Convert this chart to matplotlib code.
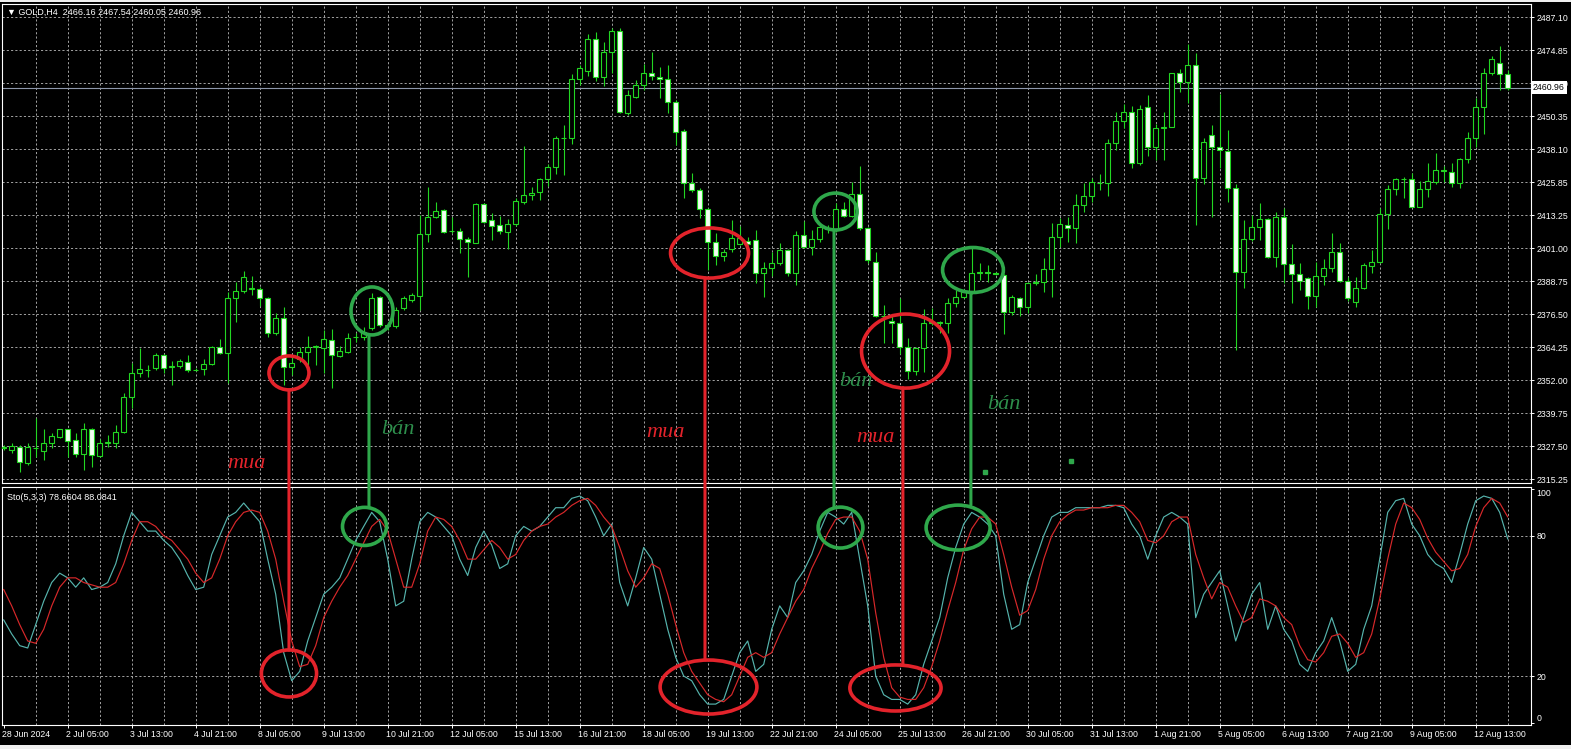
import matplotlib
matplotlib.use("Agg")
import matplotlib.pyplot as plt
from matplotlib.patches import Ellipse, Rectangle, ConnectionPatch
import matplotlib.transforms as mtransforms

# ---------------- data ----------------
opens = [2327.5,2326.5,2327.7,2321.5,2327.3,2326.2,2329.2,2331.2,2334.2,2330.2,
         2324.9,2334.2,2324.3,2329.2,2329.0,2333.3,2346.0,2354.9,2356.0,2356.8,
         2361.6,2357.2,2357.7,2359.3,2356.2,2356.4,2358.4,2364.6,2362.4,2382.8,
         2385.5,2386.4,2386.1,2382.8,2369.8,2375.4,2357.4,2360.1,2363.0,2364.8,
         2364.2,2367.3,2361.4,2363.0,2368.3,2368.3,2371.6,2383.2,2372.9,2372.6,
         2379.1,2382.2,2383.8,2406.7,2413.1,2415.5,2407.6,2407.9,2404.7,2403.4,
         2417.8,2411.9,2409.9,2407.5,2410.3,2418.7,2421.0,2422.1,2427.0,2431.4,
         2442.2,2442.3,2464.1,2467.3,2478.9,2464.8,2474.3,2482.1,2451.7,2457.6,
         2462.0,2466.6,2465.1,2464.3,2455.8,2445.0,2425.7,2423.0,2415.8,2403.6,
         2398.6,2401.0,2403.0,2404.1,2404.4,2392.3,2393.9,2396.0,2400.7,2392.3,
         2406.3,2401.7,2404.7,2408.8,2408.2,2415.8,2413.3,2421.5,2408.8,2396.4,
         2376.2,2374.5,2373.5,2364.6,2355.9,2364.2,2373.5,2374.1,2373.5,2381.2,
         2383.2,2385.3,2392.3,2392.5,2392.3,2391.4,2377.8,2382.8,2379.4,2388.6,
         2388.8,2393.6,2405.4,2410.0,2408.8,2417.4,2420.8,2425.6,2425.5,2440.5,
         2448.5,2452.0,2432.9,2453.9,2438.8,2445.9,2446.5,2466.3,2463.2,2469.4,
         2427.3,2443.4,2438.8,2437.6,2423.6,2392.7,2404.7,2409.4,2412.1,2398.3,
         2413.1,2395.4,2391.7,2390.2,2383.8,2391.2,2393.9,2400.1,2389.4,2381.6,
         2386.5,2394.9,2396.2,2414.0,2423.3,2426.9,2427.0,2416.8,2423.3,2426.1,
         2430.3,2429.6,2425.5,2434.4,2442.2,2453.7,2466.6,2470.0,2466.16]
highs = [2328.5,2329.2,2328.3,2329.2,2338.2,2334.2,2332.9,2334.4,2334.4,2332.7,
         2336.6,2334.8,2330.4,2332.0,2335.8,2347.5,2358.7,2364.5,2358.0,2362.4,
         2362.1,2359.6,2360.1,2361.8,2356.8,2360.1,2365.1,2367.6,2385.3,2389.0,
         2392.9,2391.1,2386.9,2383.4,2377.2,2379.4,2361.1,2364.8,2368.8,2365.5,
         2371.0,2371.3,2365.1,2369.8,2369.8,2372.3,2384.6,2383.7,2374.0,2379.5,
         2383.5,2384.6,2413.7,2424.0,2418.4,2415.8,2413.1,2408.8,2405.4,2418.3,
         2418.3,2414.6,2413.3,2412.1,2419.9,2439.3,2424.2,2427.3,2432.6,2443.0,
         2447.1,2466.1,2469.4,2480.9,2481.8,2478.1,2483.0,2483.0,2460.1,2463.8,
         2469.8,2474.3,2468.5,2469.4,2456.4,2445.5,2429.2,2423.6,2416.2,2407.2,
         2401.0,2411.9,2409.6,2405.7,2408.2,2396.4,2400.1,2403.4,2401.0,2407.9,
         2411.6,2408.2,2410.0,2410.0,2418.3,2418.7,2426.1,2431.9,2409.1,2400.1,
         2380.3,2376.6,2382.8,2367.9,2364.8,2378.7,2379.1,2374.5,2382.8,2385.9,
         2386.1,2402.0,2396.0,2395.2,2392.7,2391.8,2384.0,2383.4,2389.0,2391.8,
         2397.6,2410.6,2412.5,2413.1,2421.5,2425.5,2427.3,2428.9,2442.0,2452.0,
         2455.0,2454.0,2454.5,2458.3,2447.5,2452.1,2466.6,2467.8,2477.2,2473.7,
         2442.2,2447.1,2458.6,2445.3,2425.2,2411.9,2413.7,2418.3,2412.5,2415.0,
         2416.2,2403.0,2395.8,2390.8,2396.4,2397.3,2406.9,2403.2,2390.8,2390.8,
         2396.0,2400.7,2416.2,2424.9,2427.3,2428.0,2429.4,2426.5,2432.9,2436.6,
         2431.9,2432.9,2434.8,2444.7,2457.0,2468.2,2472.7,2476.5,2467.54]
lows = [2326.5,2325.3,2318.4,2320.9,2324.0,2322.8,2327.1,2330.8,2324.0,2324.0,
        2319.1,2320.3,2324.0,2327.7,2327.1,2332.7,2342.0,2353.7,2353.7,2356.2,
        2355.2,2350.6,2356.8,2355.6,2355.9,2354.3,2358.0,2362.1,2351.2,2374.1,
        2384.9,2384.0,2379.9,2368.3,2369.2,2350.6,2354.3,2359.3,2358.0,2358.0,
        2355.2,2349.4,2360.9,2362.6,2366.7,2367.3,2371.0,2372.3,2371.0,2371.8,
        2378.5,2381.6,2378.5,2403.8,2412.5,2406.9,2407.2,2399.7,2390.8,2403.2,
        2410.6,2404.4,2406.7,2401.0,2409.6,2417.8,2419.3,2419.3,2424.5,2428.9,
        2428.6,2440.1,2462.0,2465.3,2463.6,2461.6,2466.3,2451.4,2450.8,2457.0,
        2460.1,2463.8,2457.0,2451.4,2439.7,2419.9,2422.4,2412.5,2393.3,2395.2,
        2396.8,2400.1,2402.6,2402.6,2388.6,2383.4,2391.1,2395.2,2391.1,2387.7,
        2401.3,2398.9,2403.8,2406.9,2407.5,2413.1,2413.1,2408.1,2395.8,2376.0,
        2366.3,2366.1,2362.1,2352.7,2354.3,2355.6,2372.9,2369.8,2370.0,2379.7,
        2382.8,2384.5,2389.6,2389.0,2391.4,2369.5,2376.6,2376.2,2377.5,2387.7,
        2385.3,2383.2,2402.0,2403.8,2403.4,2415.0,2418.7,2423.0,2420.8,2438.0,
        2446.0,2431.0,2432.3,2435.6,2434.1,2434.1,2446.3,2459.5,2455.2,2410.0,
        2425.2,2413.1,2431.0,2418.7,2363.6,2386.5,2404.2,2404.4,2397.6,2394.5,
        2388.6,2381.2,2385.9,2378.7,2379.7,2387.7,2392.7,2389.0,2381.9,2379.7,
        2386.1,2392.3,2395.8,2408.4,2421.1,2419.9,2416.6,2416.6,2420.5,2425.2,
        2426.1,2424.2,2423.6,2433.2,2439.1,2443.8,2465.7,2460.1,2460.05]
closes = [2327.1,2328.0,2322.2,2327.5,2327.1,2329.2,2331.7,2334.2,2330.0,2324.9,
          2334.2,2324.6,2329.2,2329.4,2333.3,2346.0,2354.9,2356.4,2356.2,2361.8,
          2356.8,2357.7,2359.6,2356.2,2356.1,2358.3,2364.6,2362.4,2382.8,2385.5,
          2390.8,2386.6,2382.8,2370.0,2375.4,2357.4,2358.9,2363.0,2364.8,2365.0,
          2367.6,2361.6,2363.4,2367.9,2368.5,2370.4,2382.8,2372.9,2372.6,2378.5,
          2382.8,2384.0,2406.7,2413.1,2415.2,2407.5,2407.8,2404.7,2403.6,2417.8,
          2411.0,2409.6,2407.8,2410.3,2418.9,2421.0,2421.9,2427.0,2431.4,2442.2,
          2442.3,2464.1,2468.2,2478.9,2464.8,2474.3,2482.1,2452.1,2458.1,2462.0,
          2466.3,2465.3,2464.3,2455.8,2444.6,2425.7,2423.0,2415.8,2403.6,2398.5,
          2399.9,2405.0,2405.0,2402.8,2392.3,2393.9,2396.0,2400.7,2392.3,2406.3,
          2401.7,2404.7,2409.1,2408.6,2415.8,2413.3,2421.5,2408.8,2397.0,2376.2,
          2376.4,2373.8,2364.6,2355.9,2364.2,2373.5,2373.9,2373.5,2381.2,2383.2,
          2385.3,2392.3,2392.6,2392.3,2391.8,2377.8,2383.2,2379.4,2388.6,2388.8,
          2393.6,2405.4,2410.4,2408.8,2417.4,2420.8,2426.1,2425.5,2440.5,2448.5,
          2452.0,2432.9,2452.9,2438.8,2445.9,2446.3,2466.3,2463.2,2469.4,2427.3,
          2440.9,2438.8,2437.9,2423.6,2392.7,2404.7,2409.4,2412.1,2398.3,2413.1,
          2395.4,2391.7,2389.4,2383.8,2391.2,2393.9,2400.1,2389.4,2382.8,2386.5,
          2395.2,2396.2,2414.0,2423.3,2427.0,2427.0,2416.8,2423.3,2426.3,2430.4,
          2430.2,2425.5,2434.4,2442.2,2453.7,2466.6,2471.5,2465.9,2460.96]

stoch_main = [44,38,33,32,42,52,60,64,62,58,62,57,58,60,68,80,90,86,82,82,
              78,75,70,63,57,58,72,80,88,90,94,90,86,70,55,30,18,22,35,45,
              55,58,62,70,78,84,90,86,70,50,52,70,86,90,88,84,80,70,63,75,
              82,76,66,68,80,84,82,84,88,92,92,96,97,95,88,80,85,60,50,62,
              75,70,55,40,28,20,18,12,8,8,10,20,30,35,22,25,40,50,45,60,
              65,72,82,90,88,85,90,70,50,20,12,10,10,8,12,25,35,45,62,75,
              85,90,88,85,80,55,40,42,60,70,80,88,90,90,92,92,92,92,93,93,
              92,85,80,70,80,88,90,88,85,45,55,60,65,50,35,45,55,60,40,50,
              40,35,25,22,30,35,45,35,22,25,40,50,70,90,95,96,85,80,72,68,
              66,60,72,85,95,97,96,90,78.6604]
stoch_signal = [57,50,42,35,34,40,50,58,62,62,60,59,58,58,60,68,78,86,86,84,
                80,78,74,70,64,60,62,70,80,86,90,91,90,82,70,52,35,24,25,33,
                45,52,58,63,70,77,84,87,82,70,58,58,68,82,88,87,84,78,70,70,
                74,78,75,70,72,78,82,84,85,88,90,93,95,96,93,88,84,75,65,58,
                62,68,66,55,42,30,22,17,12,10,9,12,20,28,30,28,30,38,45,52,
                57,66,73,81,87,88,88,82,70,47,28,15,11,10,10,15,24,35,48,60,
                74,83,88,88,85,72,58,46,48,57,70,80,86,89,91,91,92,92,92,93,
                93,90,86,78,77,80,86,88,88,72,62,53,60,58,50,43,45,53,52,50,
                45,42,33,27,26,30,37,38,34,28,30,38,53,70,85,94,92,87,79,73,
                69,65,66,72,84,92,96,94,88.0841]

date_labels = ["28 Jun 2024", "2 Jul 05:00", "3 Jul 13:00", "4 Jul 21:00", "8 Jul 05:00",
               "9 Jul 13:00", "10 Jul 21:00", "12 Jul 05:00", "15 Jul 13:00", "16 Jul 21:00",
               "18 Jul 05:00", "19 Jul 13:00", "22 Jul 21:00", "24 Jul 05:00", "25 Jul 13:00",
               "26 Jul 21:00", "30 Jul 05:00", "31 Jul 13:00", "1 Aug 21:00", "5 Aug 05:00",
               "6 Aug 13:00", "7 Aug 21:00", "9 Aug 05:00", "12 Aug 13:00"]
price_tick_labels = ["2487.10", "2474.85", "2462.60", "2450.35", "2438.10", "2425.85",
                     "2413.25", "2401.00", "2388.75", "2376.50", "2364.25", "2352.00",
                     "2339.75", "2327.50", "2315.25"]
price_tick_values = [2487.10 - 12.25 * k for k in range(len(price_tick_labels))]
stoch_tick_values = [100, 80, 20, 0]
stoch_levels = [20, 80]
last_price = 2460.96
header = "\u25bc GOLD,H4  2466.16 2467.54 2460.05 2460.96"
stoch_title = "Sto(5,3,3) 78.6604 88.0841"

# annotations: (candle index, value, width in candles, height in value units)
RED = '#e3232b'
GRN = '#2fa84b'
GRN_TXT = '#2e8f4c'
price_marks = [(35.66, 2355.1, 5.0, 12.6, RED), (46.04, 2378.1, 5.25, 17.8, GRN),
               (88.23, 2399.6, 9.75, 18.6, RED), (103.98, 2415.0, 5.4, 13.7, GRN),
               (112.73, 2363.2, 11.0, 27.5, RED), (121.16, 2393.3, 7.6, 16.7, GRN)]
stoch_marks = [(35.66, 21.1, 6.9, 20.1, RED), (45.1, 84.0, 5.5, 16.3, GRN),
               (88.1, 15.3, 12.1, 23.1, RED), (104.6, 83.5, 5.6, 17.5, GRN),
               (111.47, 14.9, 11.4, 19.7, RED), (119.3, 83.5, 8.0, 19.2, GRN)]
links = [(35.66, 2348.8, 31.1, RED), (45.66, 2369.2, 92.2, GRN),
         (87.66, 2390.4, 26.9, RED), (103.79, 2408.1, 92.3, GRN),
         (112.4, 2349.6, 24.7, RED), (120.9, 2384.9, 93.2, GRN)]
notes = [(30.3, 2321.6, "mua", RED), (49.3, 2334.0, "b\u00e1n", GRN_TXT),
         (82.7, 2333.1, "mua", RED), (106.5, 2351.8, "b\u00e1n", GRN_TXT),
         (108.9, 2331.2, "mua", RED), (124.97, 2343.2, "b\u00e1n", GRN_TXT)]
dots = [(122.66, 2318.3), (133.4, 2322.4)]

# ---------------- figure ----------------
W, H = 1571, 749
fig = plt.figure(figsize=(W / 100, H / 100), dpi=100)
fig.patch.set_facecolor('#f0f0f0')
bg = fig.add_axes([0, 4 / H, 1, (H - 6) / H], zorder=-5)
bg.set_facecolor('black')
bg.set_axis_off()
bg.add_patch(Rectangle((0, 0), 1, 1, transform=bg.transAxes, fc='black', ec='none'))

def px_axes(x0, y0, x1, y1):
    return fig.add_axes([x0 / W, 1 - y1 / H, (x1 - x0) / W, (y1 - y0) / H])

ax = px_axes(2, 4, 1531, 483)
axs = px_axes(2, 487, 1531, 725)

n = len(closes)
xs = list(range(n))
FONT = ['Liberation Sans', 'DejaVu Sans']
CANDLE = '#22d622'
GRID = '#a2a2a2'
DASH = (0, (2.2, 2.2))

for a in (ax, axs):
    a.set_facecolor('black')
    a.set_xlim((2 - 3.7) / 8, (1531 - 3.7) / 8)
    for s in a.spines.values():
        s.set_color('white')
        s.set_linewidth(0.8)
    for gx in range(4, n, 4):
        a.axvline(gx, color=GRID, lw=0.7, ls=DASH, zorder=1)

# price panel
ax.set_ylim(2487.10 - (483 - 17.3) / 2.694, 2487.10 + (17.3 - 4) / 2.694)
for pv in price_tick_values:
    ax.axhline(pv, color=GRID, lw=0.7, ls=DASH, zorder=1)
ax.axhline(last_price, color='#8e97aa', lw=0.8, zorder=2)

ax.vlines(xs, lows, highs, color=CANDLE, lw=0.8, zorder=3)
bottoms = [min(o, c) for o, c in zip(opens, closes)]
heights = [max(abs(c - o), 0.08) for o, c in zip(opens, closes)]
faces = ['black' if c >= o else '#f3fff3' for o, c in zip(opens, closes)]
ax.bar(xs, heights, bottom=bottoms, width=0.6, color=faces, edgecolor=CANDLE,
       linewidth=0.8, zorder=4)

ax.yaxis.tick_right()
ax.set_yticks(price_tick_values)
ax.set_yticklabels(price_tick_labels)
ax.tick_params(axis='y', colors='white', length=2.2, width=0.7, labelsize=6.3, pad=1.5)
ax.tick_params(axis='x', length=0, labelbottom=False)
for lab in ax.get_yticklabels():
    lab.set_family(FONT)
ax.text(1.0012, last_price, f"{last_price:.2f}", transform=ax.get_yaxis_transform(),
        ha='left', va='center', fontsize=6.3, family=FONT, color='black', zorder=20,
        clip_on=False, bbox=dict(boxstyle='square,pad=0.25', fc='white', ec='none'))

# stochastic panel
axs.set_ylim((722.8 - 725) / 2.338, (722.8 - 487) / 2.338)
for lv in stoch_levels:
    axs.axhline(lv, color=GRID, lw=0.7, ls=DASH, zorder=1)
axs.plot(xs, stoch_main, color='#56b4ad', lw=0.85, zorder=3)
axs.plot(xs, stoch_signal, color='#d8282a', lw=0.85, zorder=4)
axs.yaxis.tick_right()
axs.set_yticks(stoch_tick_values)
axs.set_yticklabels([str(v) for v in stoch_tick_values])
axs.tick_params(axis='y', colors='white', length=2.2, width=0.7, labelsize=6.3, pad=1.5)
for lab, v in zip(axs.get_yticklabels(), stoch_tick_values):
    lab.set_family(FONT)
    if v == 100:
        lab.set_va('top')
    elif v == 0:
        lab.set_va('bottom')

axs.set_xticks(list(range(0, 8 * len(date_labels), 8)))
axs.set_xticklabels(date_labels)
axs.tick_params(axis='x', colors='white', length=2.2, width=0.7, labelsize=6.3, pad=1.5)
offset = mtransforms.ScaledTranslation(-2 / 100, 0, fig.dpi_scale_trans)
for lab in axs.get_xticklabels():
    lab.set_ha('left')
    lab.set_family(FONT)
    lab.set_transform(lab.get_transform() + offset)

# texts
fig.text(7 / W, 1 - 12 / H, header, color='white', fontsize=6.5, va='center',
         family=FONT, zorder=30)
fig.text(7 / W, 1 - 497 / H, stoch_title, color='white', fontsize=6.5, va='center',
         family=FONT, zorder=30)

# annotations
for xi, yv, w, h, col in price_marks:
    ax.add_patch(Ellipse((xi, yv), w, h, fill=False, ec=col, lw=2.6, zorder=10))
for xi, yv, w, h, col in stoch_marks:
    axs.add_patch(Ellipse((xi, yv), w, h, fill=False, ec=col, lw=2.6, zorder=10))
for xi, pa, vb, col in links:
    cp = ConnectionPatch(xyA=(xi, pa), coordsA=ax.transData, xyB=(xi, vb),
                         coordsB=axs.transData, color=col, lw=2.2, zorder=12)
    fig.add_artist(cp)
for xi, yv, t, col in notes:
    ax.text(xi, yv, t, color=col, fontsize=16, family='Liberation Serif',
            style='italic', ha='center', va='center', zorder=11)
ax.plot([d[0] for d in dots], [d[1] for d in dots], 's', color=GRN, ms=2.2, zorder=11)

fig.savefig('out.png', dpi=100, facecolor=fig.get_facecolor())
